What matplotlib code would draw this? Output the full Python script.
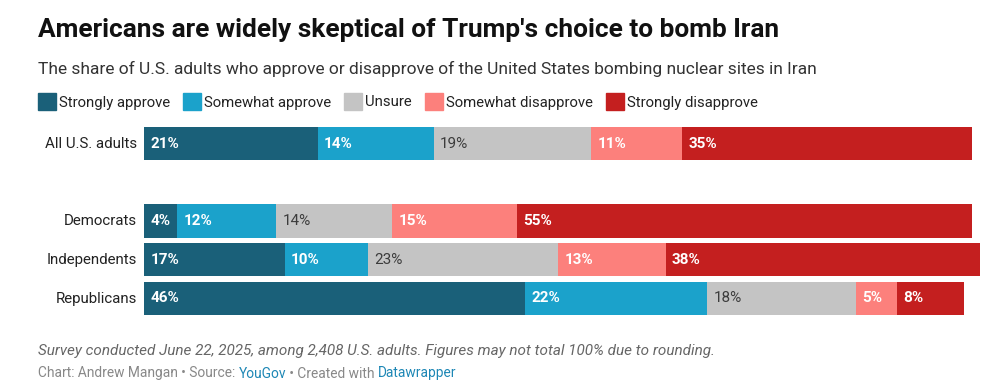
import matplotlib.pyplot as plt
from matplotlib.patches import Rectangle

plt.rcParams['font.family'] = ['Roboto', 'DejaVu Sans']

groups = ['All U.S. adults', 'Democrats', 'Independents', 'Republicans']
rows = [0, 2, 3, 4]
categories = ['Strongly approve', 'Somewhat approve', 'Unsure',
              'Somewhat disapprove', 'Strongly disapprove']
values = {
    'Strongly approve':    [21, 4, 17, 46],
    'Somewhat approve':    [14, 12, 10, 22],
    'Unsure':              [19, 14, 23, 18],
    'Somewhat disapprove': [11, 15, 13, 5],
    'Strongly disapprove': [35, 55, 38, 8],
}
colors = ['#1a6079', '#1ba2cb', '#c4c4c4', '#fc807c', '#c41f1f']
label_colors = ['white', 'white', '#3c3c3c', 'white', 'white']
label_weights = ['bold', 'bold', 'normal', 'bold', 'bold']

W, H = 1001, 392
fig = plt.figure(figsize=(W / 100, H / 100), dpi=100)

def fx(px):
    return px / W

def fy(py):
    return 1 - py / H

# axes in pixel space: x 144..981, y 120..320
ax = fig.add_axes([fx(144), fy(320), fx(981) - fx(144), fy(120) - fy(320)])
ax.set_xlim(0, (981 - 144) / 8.28)
ax.set_ylim(4 + (320 - 298.5) / 38.75, -(143.5 - 120) / 38.75)
ax.axis('off')

left = [0] * len(groups)
for cat, col, lc, lw in zip(categories, colors, label_colors, label_weights):
    vals = values[cat]
    ax.barh(rows, vals, left=left, height=0.86, color=col, linewidth=0)
    for r, v, l in zip(rows, vals, left):
        ax.annotate(f'{v}%', (l, r), xytext=(4.5, 0), textcoords='offset points',
                    ha='left', va='center', color=lc, fontsize=11, fontweight=lw)
    left = [a + b for a, b in zip(left, vals)]

for g, r in zip(groups, rows):
    ax.annotate(g, (0, r), xytext=(-5, 0), textcoords='offset points',
                ha='right', va='center', color='#222222', fontsize=10.8)

fig.text(fx(38), fy(37), "Americans are widely skeptical of Trump's choice to bomb Iran",
         fontsize=18.9, fontweight='bold', color='#111111', va='baseline')
fig.text(fx(38), fy(74),
         'The share of U.S. adults who approve or disapprove of the United States bombing nuclear sites in Iran',
         fontsize=12.55, color='#333333', va='baseline')

# legend
renderer = fig.canvas.get_renderer()
x = 38
for cat, col in zip(categories, colors):
    fig.patches.append(Rectangle((fx(x), fy(110)), fx(18), 17 / H, color=col,
                                 transform=fig.transFigure, figure=fig))
    t = fig.text(fx(x + 21), fy(106.5), cat, fontsize=10.75, color='#222222', va='baseline')
    bb = t.get_window_extent(renderer)
    x = x + 21 + bb.width + 13

fig.text(fx(38), fy(355), 'Survey conducted June 22, 2025, among 2,408 U.S. adults. '
         'Figures may not total 100% due to rounding.',
         fontsize=10.95, style='italic', color='#666666', va='baseline')

footer = [('Chart: Andrew Mangan • Source: ', '#888888'), ('YouGov', '#1d87b5'),
          (' • Created with ', '#888888'), ('Datawrapper', '#1d87b5')]
x = 38
for s, c in footer:
    t = fig.text(fx(x), fy(377.5), s, fontsize=9.9, color=c, va='baseline')
    x += t.get_window_extent(renderer).width

fig.savefig('out.png', dpi=100, facecolor='white')
